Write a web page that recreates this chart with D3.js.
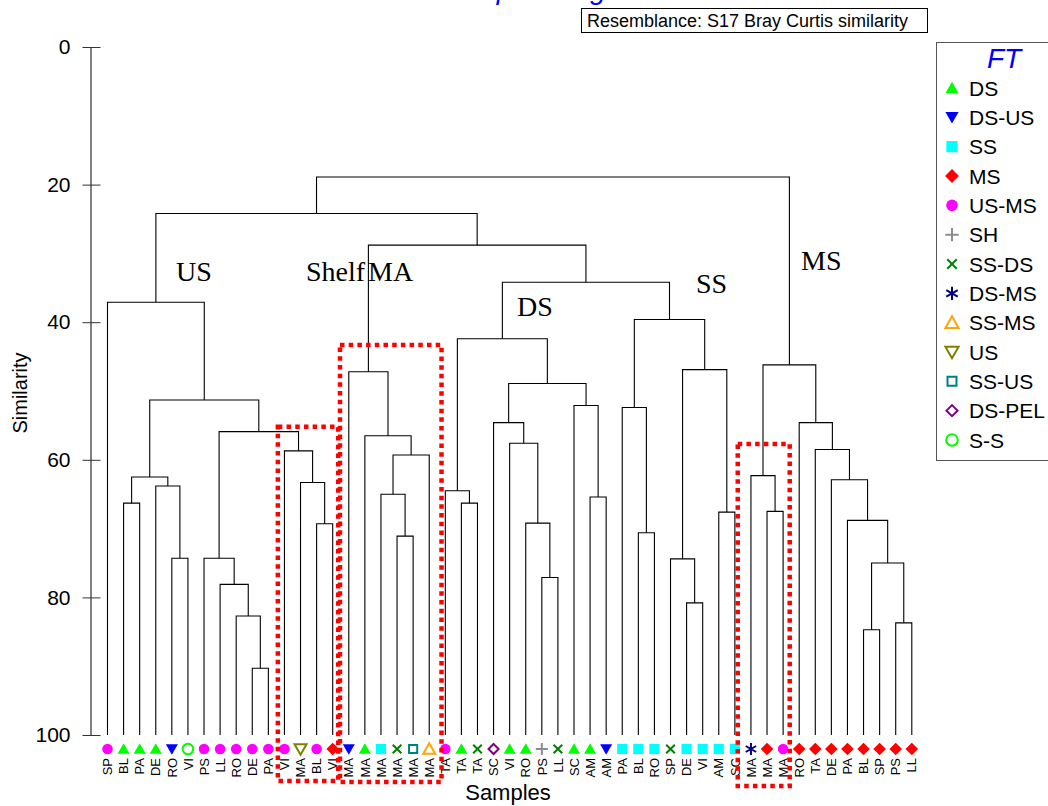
<!DOCTYPE html>
<html>
<head>
<meta charset="utf-8">
<script src="https://cdn.jsdelivr.net/npm/d3@7"></script>
<style>
  body { margin: 0; background: #fff; }
  svg { display: block; }
</style>
</head>
<body>
<svg id="chart" width="1048" height="806"></svg>
<script>
// ---- Samples, in dendrogram leaf order ----
const sampleSites = [
  "SP","BL","PA","DE","RO","VI","PS","LL","RO","DE","PA","VI","MA","BL","VI",
  "MA","MA","MA","MA","MA","MA",
  "TA","TA","TA","SC","VI","RO","PS","LL","SC","AM","AM",
  "PA","BL","RO","SP","DE","VI","AM","SC",
  "MA","MA","MA","RO","TA","DE","PA","BL","SP","PS","LL"
];
const sampleFT = [
  "US-MS","DS","DS","DS","DS-US","S-S","US-MS","US-MS","US-MS","US-MS","US-MS","US-MS","US","US-MS","MS",
  "DS-US","DS","SS","SS-DS","SS-US","SS-MS",
  "US-MS","DS","SS-DS","DS-PEL","DS","DS","SH","SS-DS","DS","DS","DS-US",
  "SS","SS","SS","SS-DS","SS","SS","SS","SS",
  "DS-MS","MS","US-MS","MS","MS","MS","MS","MS","MS","MS","MS"
];

// ---- Group-average linkage: [childA, childB, similarity %] ----
// ids 0..50 are samples, merge k creates node id 51 + k
const merges = [
  [9, 10, 90.3], [8, 51, 82.7], [7, 52, 78.1], [6, 53, 74.3],          // 51-54
  [4, 5, 74.3], [3, 55, 63.8], [1, 2, 66.3], [57, 56, 62.5],           // 55-58
  [13, 14, 69.3], [12, 59, 63.3], [11, 60, 58.7], [54, 61, 55.9],      // 59-62
  [58, 62, 51.3], [0, 63, 37.1],                                       // 63-64 (US)
  [18, 19, 71.1], [17, 65, 65.0], [66, 20, 59.3], [16, 67, 56.5],      // 65-68
  [15, 68, 47.2],                                                      // 69 (Shelf MA)
  [22, 23, 66.3], [21, 70, 64.5], [27, 28, 77.1], [26, 72, 69.2],      // 70-73
  [25, 73, 57.6], [24, 74, 54.6], [30, 31, 65.4], [29, 76, 52.1],      // 74-77
  [75, 77, 48.9], [71, 78, 42.4],                                      // 78-79 (DS)
  [33, 34, 70.6], [32, 80, 52.4], [36, 37, 80.8], [35, 82, 74.4],      // 80-83
  [38, 39, 67.6], [83, 84, 46.9], [81, 85, 39.6],                      // 84-86 (SS)
  [41, 42, 67.5], [40, 87, 62.3], [47, 48, 84.7], [49, 50, 83.7],      // 87-90
  [89, 90, 75.0], [46, 91, 68.8], [45, 92, 62.9], [44, 93, 58.5],      // 91-94
  [43, 94, 54.6], [88, 95, 46.2],                                      // 95-96 (MS)
  [79, 86, 34.2], [69, 97, 28.8], [64, 98, 24.2], [99, 96, 18.9]       // 97-100
];

const simTicks = [0, 20, 40, 60, 80, 100];

// ---- Legend (factor FT) ----
const ftLevels = ["DS","DS-US","SS","MS","US-MS","SH","SS-DS","DS-MS","SS-MS","US","SS-US","DS-PEL","S-S"];

// ---- Cluster names written on the plot ----
const clusterNames = ["US", "Shelf", "MA", "DS", "SS", "MS"];

// ---- Highlighted sample groups: [first leaf, last leaf, similarity at top] ----
const highlightGroups = [[11, 14, 55.2], [15, 20, 43.3], [40, 42, 57.7]];

// ================= drawing =================
const svg = d3.select("#chart");

const x = d3.scalePoint().domain(d3.range(sampleSites.length)).range([107.5, 911.8]);
const y = d3.scaleLinear().domain([0, 100]).range([47, 735]);

// marker style for each FT level
const markerStyle = {
  "DS":     { shape: "triUp",   color: "#00ff00", fill: true },
  "DS-US":  { shape: "triDown", color: "#0000ff", fill: true },
  "SS":     { shape: "square",  color: "#00ffff", fill: true },
  "MS":     { shape: "diamond", color: "#ff0000", fill: true },
  "US-MS":  { shape: "circle",  color: "#ff00ff", fill: true },
  "SH":     { shape: "plus",    color: "#8c8c8c", fill: false },
  "SS-DS":  { shape: "times",   color: "#008000", fill: false },
  "DS-MS":  { shape: "star",    color: "#000080", fill: false },
  "SS-MS":  { shape: "triUp",   color: "#ffa500", fill: false },
  "US":     { shape: "triDown", color: "#808000", fill: false },
  "SS-US":  { shape: "square",  color: "#008080", fill: false, small: true },
  "DS-PEL": { shape: "diamond", color: "#800080", fill: false, small: true },
  "S-S":    { shape: "circle",  color: "#00ff00", fill: false }
};

// custom symbol types (size = r*r)
const symbolTypes = {
  triUp:   { draw(c, s) { const r = Math.sqrt(s); c.moveTo(0, -r * 0.95); c.lineTo(r, r * 0.8); c.lineTo(-r, r * 0.8); c.closePath(); } },
  triDown: { draw(c, s) { const r = Math.sqrt(s); c.moveTo(0, r * 0.95); c.lineTo(r, -r * 0.8); c.lineTo(-r, -r * 0.8); c.closePath(); } },
  square:  { draw(c, s) { const r = Math.sqrt(s) * 0.85; c.rect(-r, -r, 2 * r, 2 * r); } },
  diamond: { draw(c, s) { const r = Math.sqrt(s) * 1.05; c.moveTo(0, -r); c.lineTo(r, 0); c.lineTo(0, r); c.lineTo(-r, 0); c.closePath(); } },
  circle:  { draw(c, s) { const r = Math.sqrt(s) * 0.88; c.moveTo(r, 0); c.arc(0, 0, r, 0, 2 * Math.PI); } },
  plus:    { draw(c, s) { const r = Math.sqrt(s); c.moveTo(-r, 0); c.lineTo(r, 0); c.moveTo(0, -r); c.lineTo(0, r); } },
  times:   { draw(c, s) { const r = Math.sqrt(s) * 0.72; c.moveTo(-r, -r); c.lineTo(r, r); c.moveTo(-r, r); c.lineTo(r, -r); } },
  star:    { draw(c, s) { const r = Math.sqrt(s);
             for (const a of [90, 30, 150]) { const t = a * Math.PI / 180, dx = r * Math.cos(t), dy = r * Math.sin(t);
               c.moveTo(-dx, -dy); c.lineTo(dx, dy); } } }
};

function drawMarker(sel, ft, cx, cy, r) {
  const st = markerStyle[ft];
  const rr = st.small && !st.fill ? r * 0.8 : r;
  const open = !st.fill;
  sel.append("path")
    .attr("transform", `translate(${cx},${cy})`)
    .attr("d", d3.symbol().type(symbolTypes[st.shape]).size(rr * rr)())
    .attr("fill", open ? "none" : st.color)
    .attr("stroke", st.color)
    .attr("stroke-width", open ? 2 : 0)
    .attr("stroke-linejoin", "miter");
}

// ---- title and resemblance note ----
svg.append("text")
  .attr("x", 528).attr("y", -1.5)
  .attr("text-anchor", "middle")
  .attr("font-family", "Arial, 'Liberation Sans', sans-serif")
  .attr("font-style", "italic").attr("font-size", 28).attr("fill", "#0000ff")
  .text("Group average");

svg.append("rect")
  .attr("x", 581.5).attr("y", 8.5).attr("width", 346).attr("height", 24)
  .attr("fill", "#fff").attr("stroke", "#000").attr("stroke-width", 1);
svg.append("text")
  .attr("x", 587).attr("y", 26.5)
  .attr("font-family", "Arial, 'Liberation Sans', sans-serif")
  .attr("font-size", 18).attr("fill", "#000")
  .text("Resemblance: S17 Bray Curtis similarity");

// ---- y axis ----
const yAxis = svg.append("g")
  .attr("transform", "translate(90.5,0)")
  .call(d3.axisLeft(y).tickValues(simTicks).tickSizeInner(8).tickSizeOuter(0).tickPadding(12));
yAxis.select(".domain").attr("stroke", "#000");
yAxis.selectAll(".tick line").attr("x1", -8).attr("x2", 10).attr("stroke", "#333");
yAxis.selectAll(".tick text")
  .attr("font-family", "Arial, 'Liberation Sans', sans-serif")
  .attr("font-size", 21).attr("fill", "#000");

svg.append("text")
  .attr("transform", "translate(27,393) rotate(-90)")
  .attr("text-anchor", "middle")
  .attr("font-family", "Arial, 'Liberation Sans', sans-serif")
  .attr("font-size", 20).attr("fill", "#000")
  .text("Similarity");

// ---- dendrogram ----
const nLeaves = sampleSites.length;
const nodeX = [], nodeSim = [];
sampleSites.forEach((_, i) => { nodeX[i] = x(i); nodeSim[i] = 100; });
merges.forEach(([a, b, s], k) => {
  nodeX[nLeaves + k] = (nodeX[a] + nodeX[b]) / 2;
  nodeSim[nLeaves + k] = s;
});

svg.append("g")
  .attr("fill", "none").attr("stroke", "#000").attr("stroke-width", 1.1)
  .selectAll("path")
  .data(merges)
  .join("path")
  .attr("d", ([a, b, s]) => {
    const p = d3.path();
    p.moveTo(nodeX[a], y(nodeSim[a]));
    p.lineTo(nodeX[a], y(s));
    p.lineTo(nodeX[b], y(s));
    p.lineTo(nodeX[b], y(nodeSim[b]));
    return p.toString();
  });

// ---- sample markers and labels ----
const leafG = svg.append("g");
sampleFT.forEach((ft, i) => drawMarker(leafG, ft, x(i), 749, 6));

svg.append("g")
  .selectAll("text")
  .data(sampleSites)
  .join("text")
  .attr("transform", (d, i) => `translate(${x(i)},758) rotate(-90)`)
  .attr("text-anchor", "end")
  .attr("dy", "0.36em")
  .attr("font-family", "Arial, 'Liberation Sans', sans-serif")
  .attr("font-size", 13).attr("fill", "#000")
  .text(d => d);

svg.append("text")
  .attr("x", 508).attr("y", 800)
  .attr("text-anchor", "middle")
  .attr("font-family", "Arial, 'Liberation Sans', sans-serif")
  .attr("font-size", 22).attr("fill", "#000")
  .text("Samples");

// ---- cluster names ----
const clusterPos = [[176, 281], [306, 281], [368, 281], [517, 316], [696, 293], [801, 270]];
svg.append("g")
  .selectAll("text")
  .data(clusterNames)
  .join("text")
  .attr("x", (d, i) => clusterPos[i][0])
  .attr("y", (d, i) => clusterPos[i][1])
  .attr("font-family", "'Liberation Serif', 'Times New Roman', serif")
  .attr("font-size", 28).attr("fill", "#000")
  .text(d => d);

// ---- highlight boxes ----
const boxPad = [[6.6, 5.5], [8.8, 12.3], [13.2, 6.6]];
const boxBottom = [781, 782, 786];
svg.append("g")
  .attr("fill", "none").attr("stroke", "#ff0000").attr("stroke-width", 4.5)
  .attr("stroke-dasharray", "4.5,4.2")
  .selectAll("rect")
  .data(highlightGroups)
  .join("rect")
  .attr("x", (d, i) => x(d[0]) - boxPad[i][0])
  .attr("y", d => y(d[2]))
  .attr("width", (d, i) => x(d[1]) + boxPad[i][1] - (x(d[0]) - boxPad[i][0]))
  .attr("height", (d, i) => boxBottom[i] - y(d[2]));

// ---- legend ----
const legend = svg.append("g");
legend.append("rect")
  .attr("x", 936.5).attr("y", 42.5).attr("width", 140).attr("height", 418)
  .attr("fill", "#fff").attr("stroke", "#555").attr("stroke-width", 1);
legend.append("text")
  .attr("x", 1004).attr("y", 68)
  .attr("text-anchor", "middle")
  .attr("font-family", "Arial, 'Liberation Sans', sans-serif")
  .attr("font-style", "italic").attr("font-size", 28).attr("fill", "#0000ff")
  .text("FT");
ftLevels.forEach((ft, i) => {
  const cy = 88 + i * 29.33;
  drawMarker(legend, ft, 952, cy, 6.6);
  legend.append("text")
    .attr("x", 969).attr("y", cy).attr("dy", "0.36em")
    .attr("font-family", "Arial, 'Liberation Sans', sans-serif")
    .attr("font-size", 21).attr("fill", "#000")
    .text(ft);
});
</script>
</body>
</html>
